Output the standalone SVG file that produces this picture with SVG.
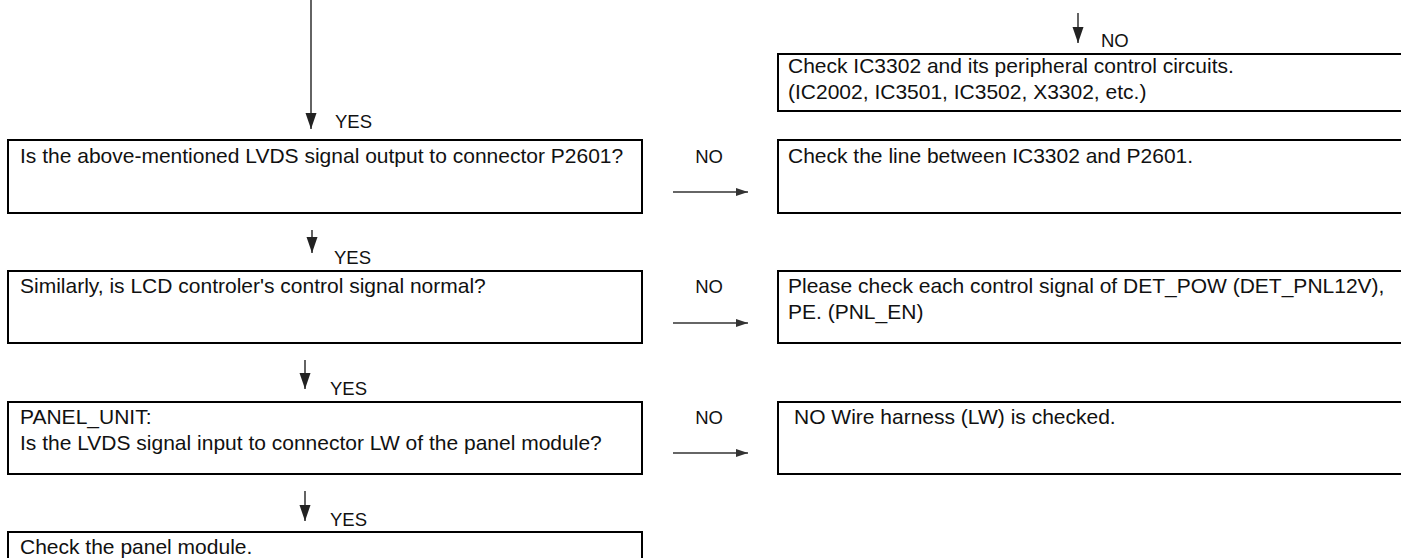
<svg xmlns="http://www.w3.org/2000/svg" width="1401" height="558" viewBox="0 0 1401 558">
<style>
.box{fill:#fff;stroke:#000;stroke-width:2}
.t{font-family:"Liberation Sans",Arial,sans-serif;font-size:21px;fill:#111}
.l{font-family:"Liberation Sans",Arial,sans-serif;font-size:18.5px;fill:#111}
.v{stroke:#222;stroke-width:1.4;fill:none;marker-end:url(#hv)}
.h{stroke:#333;stroke-width:1.6;fill:none;marker-end:url(#hh)}
</style>
<defs>
<marker id="hv" markerUnits="userSpaceOnUse" markerWidth="16" markerHeight="12" refX="16" refY="6" orient="auto"><path d="M0,0.5 L16,6 L0,11.5 Z" fill="#222"/></marker>
<marker id="hh" markerUnits="userSpaceOnUse" markerWidth="12" markerHeight="9" refX="12" refY="4.5" orient="auto"><path d="M0,0.5 L12,4.5 L0,8.5 Z" fill="#333"/></marker>
</defs>
<rect width="1401" height="558" fill="#fff"/>
<g id="n_ic3302">
<rect class="box" x="778" y="54" width="640" height="57"/>
<text class="t" x="788" y="73">Check IC3302 and its peripheral control circuits.</text>
<text class="t" x="788" y="99">(IC2002, IC3501, IC3502, X3302, etc.)</text>
</g>
<g id="n_q1">
<rect class="box" x="8" y="140" width="634" height="73"/>
<text class="t" x="20" y="163">Is the above-mentioned LVDS signal output to connector P2601?</text>
</g>
<g id="n_line">
<rect class="box" x="778" y="140" width="640" height="73"/>
<text class="t" x="788" y="163">Check the line between IC3302 and P2601.</text>
</g>
<g id="n_q2">
<rect class="box" x="8" y="271" width="634" height="72"/>
<text class="t" x="20" y="293">Similarly, is LCD controler's control signal normal?</text>
</g>
<g id="n_ctrl">
<rect class="box" x="778" y="271" width="640" height="72"/>
<text class="t" x="788" y="293">Please check each control signal of DET_POW (DET_PNL12V),</text>
<text class="t" x="788" y="319">PE. (PNL_EN)</text>
</g>
<g id="n_q3">
<rect class="box" x="8" y="402" width="634" height="72"/>
<text class="t" x="20" y="424">PANEL_UNIT:</text>
<text class="t" x="20" y="450">Is the LVDS signal input to connector LW of the panel module?</text>
</g>
<g id="n_harness">
<rect class="box" x="778" y="402" width="640" height="72"/>
<text class="t" x="794" y="424">NO Wire harness (LW) is checked.</text>
</g>
<g id="n_panel">
<rect class="box" x="8" y="532" width="634" height="40"/>
<text class="t" x="20" y="554">Check the panel module.</text>
</g>
<g id="connectors">
<line class="v" x1="311" y1="0" x2="311" y2="129"/>
<text class="l" x="335" y="128">YES</text>
<line class="v" x1="1078" y1="13" x2="1078" y2="43"/>
<text class="l" x="1101" y="47">NO</text>
<line class="v" x1="312" y1="230" x2="312" y2="253"/>
<text class="l" x="334" y="264">YES</text>
<line class="v" x1="305" y1="360" x2="305" y2="389"/>
<text class="l" x="330" y="395">YES</text>
<line class="v" x1="305" y1="491" x2="305" y2="521"/>
<text class="l" x="330" y="526">YES</text>
<line class="h" x1="673" y1="192" x2="748" y2="192"/>
<text class="l" x="709" y="163" text-anchor="middle">NO</text>
<line class="h" x1="673" y1="323" x2="748" y2="323"/>
<text class="l" x="709" y="293" text-anchor="middle">NO</text>
<line class="h" x1="673" y1="453" x2="748" y2="453"/>
<text class="l" x="709" y="424" text-anchor="middle">NO</text>
</g>
</svg>
